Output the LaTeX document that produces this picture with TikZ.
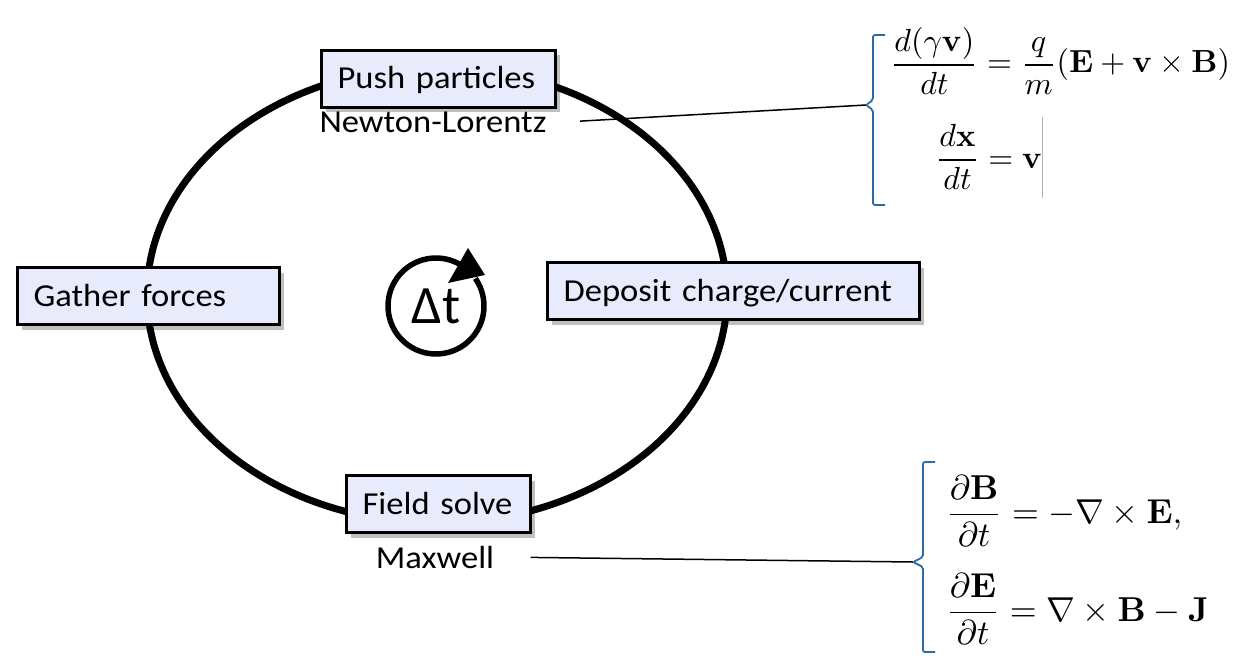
\documentclass[tikz,border=0pt]{standalone}
\usepackage{amsmath}
\usepackage[no-math]{fontspec}
\setmainfont{Carlito}[FakeStretch=1.08]
\newfontfamily\dtfont{Carlito}
\usetikzlibrary{shadows,calc}

\definecolor{boxfill}{RGB}{232,235,252}
\definecolor{braceblue}{RGB}{46,106,166}

\tikzset{
  stepbox/.style={draw, line width=3.2pt, fill=boxfill, align=left, anchor=west,
    inner xsep=16pt, inner ysep=0pt, minimum height=57pt,
    text height=20pt, text depth=0pt, font=\fontsize{32}{38}\selectfont,
    drop shadow={shadow xshift=4pt, shadow yshift=-5pt, opacity=0.25, fill=black}},
  steplabel/.style={anchor=base, font=\fontsize{32}{38}\selectfont},
  eqn/.style={anchor=base west, inner sep=0pt, scale=3.2, transform shape},
  eqbrace/.style={draw=braceblue, line width=1.8pt, rounded corners=2pt},
}

\begin{document}
\begin{tikzpicture}[x=1pt, y=-1pt]
    \useasboundingbox (0,0) rectangle (1238,663);
    % the loop
    \draw[line width=7pt] (437,295) ellipse [x radius=290pt, y radius=228pt];

    \node[stepbox, text width=202pt] (push) at (320,79) {Push particles};
    \node[stepbox, text width=230pt] (gather) at (16,296) {Gather forces};
    \node[stepbox, text width=340pt] (deposit) at (546,291) {Deposit charge/current};
    \node[stepbox, text width=152pt] (field) at (345,504) {Field solve};

    \node[steplabel] (newton) at (433,133) {Newton-Lorentz};
    \node[steplabel] (maxwell) at (435,568) {Maxwell};

    % time step symbol
    \node[font=\dtfont\fontsize{54}{60}\selectfont] (dt) at (436,306) {Δt};
    \draw[line width=5.5pt] (dt.center) ++(60:48pt) arc[start angle=60, end angle=395, radius=48pt];
    \fill ($(dt.center)+(32,-58)$) -- ($(dt.center)+(12,-23)$) -- ($(dt.center)+(49,-31)$) -- cycle;

    % equations of motion
    \node[eqn] (lorentz) at (890,73)
        {$\dfrac{d(\gamma\mathbf{v})}{dt} = \dfrac{q}{m}(\mathbf{E}+\mathbf{v}\times\mathbf{B})$};
    \node[eqn] (motion) at (935,168) {$\dfrac{d\mathbf{x}}{dt} = \mathbf{v}$};
    \draw[black!30, line width=0.8pt] (1042,117) -- (1042,198);
    \draw[eqbrace] (885,35) -- (873,35) -- (873,100) -- (866,105) -- (873,110) -- (873,205) -- (885,205);
    \coordinate (pushtip) at (866,105);

    % field equations
    \node[eqn, scale=1.08] (faraday) at (945,523)
        {$\dfrac{\partial\mathbf{B}}{\partial t} = -\nabla\times\mathbf{E},$};
    \node[eqn, scale=1.08] (ampere) at (945,621)
        {$\dfrac{\partial\mathbf{E}}{\partial t} = \nabla\times\mathbf{B}-\mathbf{J}$};
    \draw[eqbrace] (935,462) -- (923,462) -- (923,557) -- (913,562) -- (923,567) -- (923,652) -- (935,652);
    \coordinate (fieldtip) at (913,562);

    \draw[line width=1.5pt, shorten <=30pt] (newton.east) -- (pushtip);
    \draw[line width=1.5pt, shorten <=33pt] (maxwell.east) -- (fieldtip);
\end{tikzpicture}
\end{document}
